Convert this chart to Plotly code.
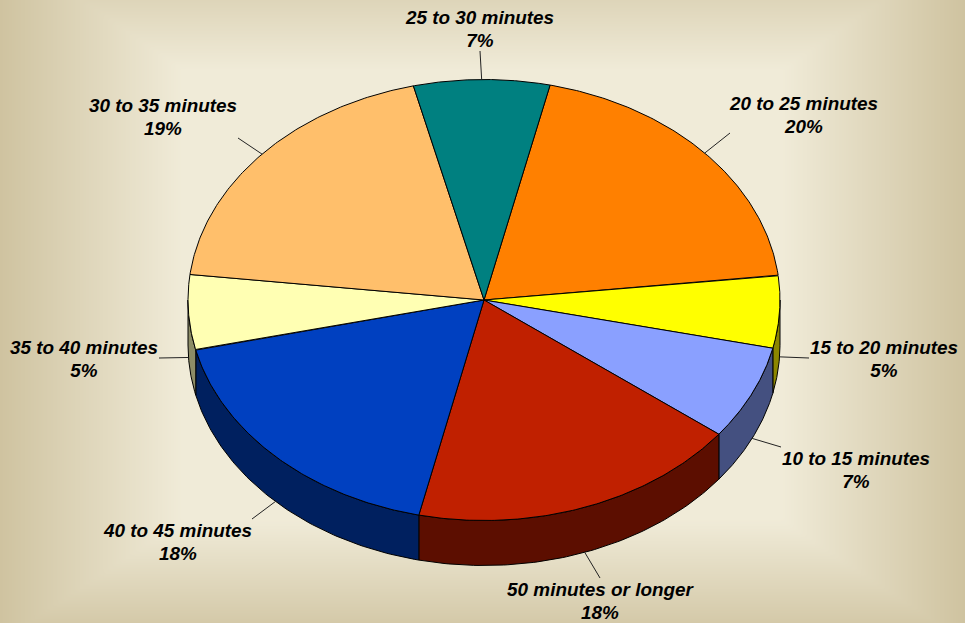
import numpy as np
import plotly.graph_objects as go

# ---- data ----
categories = ["20 to 25 minutes", "15 to 20 minutes", "10 to 15 minutes", "50 minutes or longer",
              "40 to 45 minutes", "35 to 40 minutes", "30 to 35 minutes", "25 to 30 minutes"]
values = [19.6, 5.3, 6.9, 18.1, 17.8, 5.49, 19.3, 7.41]

# ---- styles ----
top_colors = ["#FF8000", "#FFFF00", "#8AA0FF", "#C02000", "#0040C0", "#FFFFB3", "#FFBF6B", "#008080"]
side_colors = ["#804000", "#8C8600", "#445080", "#5C0E00", "#00205F", "#8C8C66", "#806035", "#004040"]
W, H = 965, 623
CX, CY, RX, RY, DEPTH = 484, 300, 296, 220.5, 45
START_DEG = 12.9
LINE_GAP = 23
# label layout: text centre and leader-line end point, in pixels, per slice
label_centre = [(804, 117), (884, 361), (856, 472), (600, 603), (178, 544), (84, 361), (163, 119), (480, 31)]
leader_end = [(730, 133), (809, 358), (781, 447), (600, 578), (252, 519), (159, 358), (238, 138), (480, 51)]

def pt(deg, drop=0.0):
    a = np.radians(deg)
    return CX + RX * np.sin(a), CY - RY * np.cos(a) + drop

fig = go.Figure()

# ---- background: rectangular path gradient ----
gx = np.linspace(-5, W + 5, 195)
gy = np.linspace(-5, H + 5, 127)
XX, YY = np.meshgrid(gx, gy)
dx = np.clip((np.abs(XX - 482) - 300) / 182, 0, 1)
dy_top = np.clip((70 - YY) / 70, 0, 1) * 0.55
dy_bot = np.clip((YY - 520) / 103, 0, 1) * 0.85
z = np.maximum(dx, np.maximum(dy_top, dy_bot))
fig.add_trace(go.Heatmap(x=gx, y=gy, z=z, zmin=0, zmax=1, zsmooth="best", showscale=False,
                         colorscale=[[0, "#F0EBD8"], [1, "#CFC3A0"]], hoverinfo="skip"))

total = sum(values)
angles = START_DEG + np.concatenate([[0], np.cumsum(values)]) * 360 / total
outline = dict(color="#000000", width=1)

# ---- side walls (only the near half of the rim is visible) ----
for i, v in enumerate(values):
    a0, a1 = angles[i], angles[i + 1]
    lo, hi = max(a0, 90), min(a1, 270)
    if hi <= lo:
        continue
    t = np.linspace(lo, hi, 80)
    xa, ya = pt(t)
    xb, yb = pt(t, DEPTH)
    fig.add_trace(go.Scatter(x=np.r_[xa, xb[::-1], xa[0]], y=np.r_[ya, yb[::-1], ya[0]],
                             mode="lines", fill="toself", fillcolor=side_colors[i], line=outline,
                             hoverinfo="skip", showlegend=False))

# ---- top faces ----
for i, v in enumerate(values):
    t = np.linspace(angles[i], angles[i + 1], 120)
    xa, ya = pt(t)
    fig.add_trace(go.Scatter(x=np.r_[CX, xa, CX], y=np.r_[CY, ya, CY], mode="lines", fill="toself",
                             fillcolor=top_colors[i], line=outline, hoverinfo="skip", showlegend=False,
                             name=categories[i]))

# ---- leader lines ----
for i, v in enumerate(values):
    mid = (angles[i] + angles[i + 1]) / 2
    near = 90 < (mid % 360) < 270
    x0, y0 = pt(mid, DEPTH if near else 0)
    x1, y1 = leader_end[i]
    fig.add_trace(go.Scatter(x=[x0, x1], y=[y0, y1], mode="lines", line=dict(color="#222222", width=1),
                             hoverinfo="skip", showlegend=False))

# ---- labels ----
label_font = dict(family="Liberation Sans, Arial, sans-serif", size=18.9, color="#000000",
                  weight="bold", style="italic")
fig.add_trace(go.Scatter(
    x=[c[0] for c in label_centre], y=[c[1] - LINE_GAP / 2 for c in label_centre], mode="text",
    text=categories, textposition="middle center", textfont=label_font,
    hoverinfo="skip", showlegend=False))
fig.add_trace(go.Scatter(
    x=[c[0] for c in label_centre], y=[c[1] + LINE_GAP / 2 for c in label_centre], mode="text",
    text=[f"{round(v)}%" for v in values], textposition="middle center", textfont=label_font,
    hoverinfo="skip", showlegend=False))

fig.update_layout(
    width=W, height=H, margin=dict(l=0, r=0, t=0, b=0), showlegend=False,
    paper_bgcolor="#F0EBD8", plot_bgcolor="#F0EBD8",
    xaxis=dict(range=[0, W], visible=False, fixedrange=True),
    yaxis=dict(range=[H, 0], visible=False, fixedrange=True),
)
fig.write_html("out.html", config={"displayModeBar": False},
               post_script="document.body.style.margin='0';document.body.style.overflow='hidden';")
